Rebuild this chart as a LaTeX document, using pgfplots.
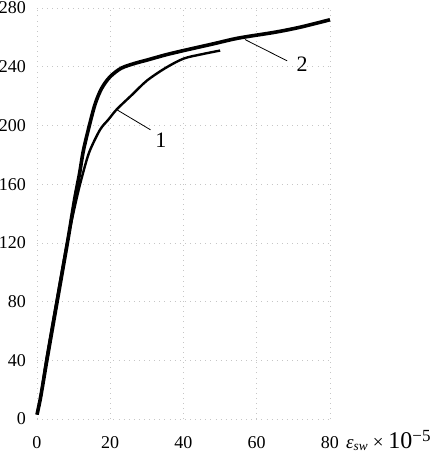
\documentclass[border=0pt]{standalone}
\usepackage{pgfplots}
\pgfplotsset{compat=1.18}
\usepackage{fontspec}
\setmainfont{Liberation Serif}
\begin{document}
\begin{tikzpicture}
\useasboundingbox (-37pt,-34pt) rectangle (398pt,419pt);
\begin{axis}[
  at={(0,0)}, anchor=south west,
  scale only axis, width=293pt, height=411pt,
  xmin=0, xmax=80, ymin=0, ymax=280,
  enlargelimits=false,
  axis line style={draw=none},
  xtick={0,20,40,60,80}, ytick={0,40,80,120,160,200,240,280},
  major tick length=0pt,
  grid=major,
  major grid style={gray!45, line width=0.5pt, dash pattern=on 0.6pt off 4.5pt},
  /pgf/number format/assume math mode=true,
  tick label style={font=\fontsize{18}{18}\selectfont},
  yticklabel style={inner sep=0pt, anchor=east, xshift=-11pt},
  xticklabel style={inner sep=0pt, anchor=base, yshift=-29pt},
  clip=false,
]
% curve 2 (thick)
\addplot[black, line width=3.6pt, smooth, tension=0.5] coordinates {
(0,3) (1,15) (2.7,40) (5.5,80) (8.3,120) (10.3,150) (11.6,167) (12.6,182)
(13.9,196) (15.8,214) (17.6,225) (19.9,233) (23,239) (27,242.5) (30,244.5)
(35,248) (40,251) (48,255.5) (55,259.5) (65,263.5) (72,267) (80,272)
};
% curve 1 (thin)
\addplot[black, line width=2.4pt, smooth, tension=0.5] coordinates {
(0,3) (1,15) (2.5,40) (5.3,80) (8.2,120) (10.8,150) (12.4,166) (14.3,182)
(17.2,197) (19.5,204) (21.8,211) (26,221) (30,230.5) (35,239) (40,245.5)
(45,248.5) (50,251)
};
\draw[black, line width=0.8pt] (axis cs:21.6,211) -- (axis cs:31,197);
\draw[black, line width=0.8pt] (axis cs:56.8,258.5) -- (axis cs:68.3,244);
\node[font=\fontsize{22}{22}\selectfont] at (axis cs:33.8,190) {1};
\node[font=\fontsize{22}{22}\selectfont] at (axis cs:72.4,241.5) {2};
\node[anchor=base west, inner sep=0pt, font=\fontsize{19}{19}\selectfont] at (rel axis cs:1,0) [xshift=16pt, yshift=-29pt]
  {\itshape ε\textsubscript{sw}\upshape\ × {\fontsize{24}{24}\selectfont 10}\textsuperscript{\fontsize{17}{17}\selectfont −5}};
\end{axis}
\end{tikzpicture}
\end{document}
